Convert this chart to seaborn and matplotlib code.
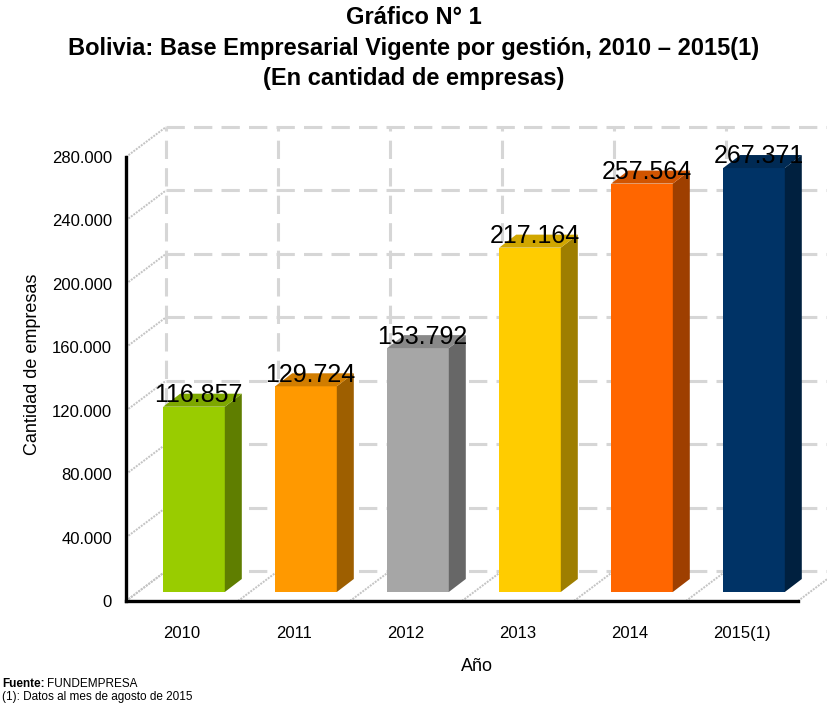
import numpy as np
import pandas as pd
import matplotlib.pyplot as plt
from matplotlib.patches import Polygon
from matplotlib.ticker import FuncFormatter
import matplotlib.colors as mcolors
import seaborn as sns

years = ["2010", "2011", "2012", "2013", "2014", "2015(1)"]
empresas = [116857, 129724, 153792, 217164, 257564, 267371]
colores = ["#99CC00", "#FF9900", "#A6A6A6", "#FFCC00", "#FF6600", "#003366"]
yticks = [0, 40000, 80000, 120000, 160000, 200000, 240000, 280000]

def miles(v):
    return "{:,}".format(int(v)).replace(",", ".")

def shade(c, f):
    r, g, b = mcolors.to_rgb(c)
    return (r * f, g * f, b * f)

sns.set_style("white")
plt.rcParams['font.family'] = ['Liberation Sans', 'DejaVu Sans']
plt.rcParams['text.color'] = 'black'
plt.rcParams['axes.labelcolor'] = 'black'
plt.rcParams['xtick.color'] = 'black'
plt.rcParams['ytick.color'] = 'black'

fig = plt.figure(figsize=(8.28, 7.04), dpi=100)
ax = fig.add_axes([126/828, 103/704, 702/828, 473/704])

df = pd.DataFrame({"anio": years, "n": empresas})
sns.barplot(data=df, x="anio", y="n", hue="anio", palette=colores, legend=False,
            width=0.55, saturation=1, ax=ax, zorder=3, edgecolor="none")

ax.set_xlim(-0.5, -0.5 + 702/112)
ax.set_ylim(0, 473/444*280000)

# "3D" depth of the back wall and of the bars (in data units)
wx, wy = 40/112, 30*280000/444
fx, fy = 12/112, 9*280000/444
bx, by = 17/112, 13*280000/444

grid = "#d6d6d6"
bounds = np.arange(-0.5, len(years), 1.0)
xr = ax.get_xlim()[1]
for v in yticks:
    ax.plot([-0.5 + wx, xr], [v + wy, v + wy], color=grid, lw=2.2, ls=(0, (6, 3)), zorder=1, clip_on=False)
    ax.plot([-0.5, -0.5 + wx], [v, v + wy], color="#c4c4c4", lw=1.4, ls=(0, (1, 0.6)), zorder=1, clip_on=False)
for b in bounds:
    ax.plot([b + wx, b + wx], [wy, 280000 + wy], color=grid, lw=2.2, ls=(0, (6, 3)), zorder=1, clip_on=False)
    ax.plot([b, b + wx], [0, wy], color="#c4c4c4", lw=1.4, ls=(0, (1, 0.6)), zorder=1, clip_on=False)

for p, c, v in zip(ax.patches, colores, empresas):
    x0 = p.get_x() + fx
    w = p.get_width()
    p.set_x(x0)
    p.set_y(fy)
    p.set_height(v)
    top = v + fy
    side = Polygon([(x0 + w, fy), (x0 + w + bx, fy + by), (x0 + w + bx, top + by), (x0 + w, top)],
                   closed=True, facecolor=shade(c, 0.62), edgecolor="none", zorder=3)
    cap = Polygon([(x0, top), (x0 + bx, top + by), (x0 + w + bx, top + by), (x0 + w, top)],
                  closed=True, facecolor=shade(c, 0.82), edgecolor="none", zorder=3)
    ax.add_patch(side)
    ax.add_patch(cap)
    ax.annotate(miles(v), (x0 + w/2 + 0.04, top + 0.35*by), ha="center", va="baseline",
                fontsize=18, zorder=5)

# axes
for s in ["top", "right"]:
    ax.spines[s].set_visible(False)
ax.spines["left"].set_linewidth(2.4)
ax.spines["bottom"].set_linewidth(2.4)
ax.spines["left"].set_color("black")
ax.spines["bottom"].set_color("black")
ax.spines["left"].set_bounds(0, 280000)
ax.spines["bottom"].set_bounds(-0.5, len(years) - 0.5)
ax.set_yticks(yticks)
ax.yaxis.set_major_formatter(FuncFormatter(lambda v, pos: miles(v)))
ax.set_xticks(range(len(years)))
ax.set_xticklabels(years)
ax.set_xticks(bounds, minor=True)
ax.tick_params(axis="x", which="major", length=0, pad=18, labelsize=12)
ax.tick_params(axis="x", which="minor", length=6, width=1.4, direction="out")
ax.tick_params(axis="y", length=6, width=1.4, direction="out", labelsize=12, pad=4)
ax.set_xlabel("Año", fontsize=13, labelpad=12)
ax.set_ylabel("Cantidad de empresas", fontsize=13, labelpad=8)

fig.text(0.5, 1 - 17/704, "Gráfico N° 1", ha="center", va="center", fontsize=17, fontweight="bold")
fig.text(0.5, 1 - 48/704, "Bolivia: Base Empresarial Vigente por gestión, 2010 – 2015(1)",
         ha="center", va="center", fontsize=17, fontweight="bold")
fig.text(0.5, 1 - 78/704, "(En cantidad de empresas)", ha="center", va="center", fontsize=17, fontweight="bold")

t = fig.text(2/828, 1 - 684/704, "Fuente:", ha="left", va="center", fontsize=8.5, fontweight="bold")
ax.annotate("FUNDEMPRESA", xy=(1, 0), xycoords=t, xytext=(2, 0), textcoords="offset points",
            ha="left", va="bottom", fontsize=8.5, annotation_clip=False)
fig.text(2/828, 1 - 697/704, "(1): Datos al mes de agosto de 2015", ha="left", va="center", fontsize=8.5)

fig.savefig("out.png", dpi=100)
